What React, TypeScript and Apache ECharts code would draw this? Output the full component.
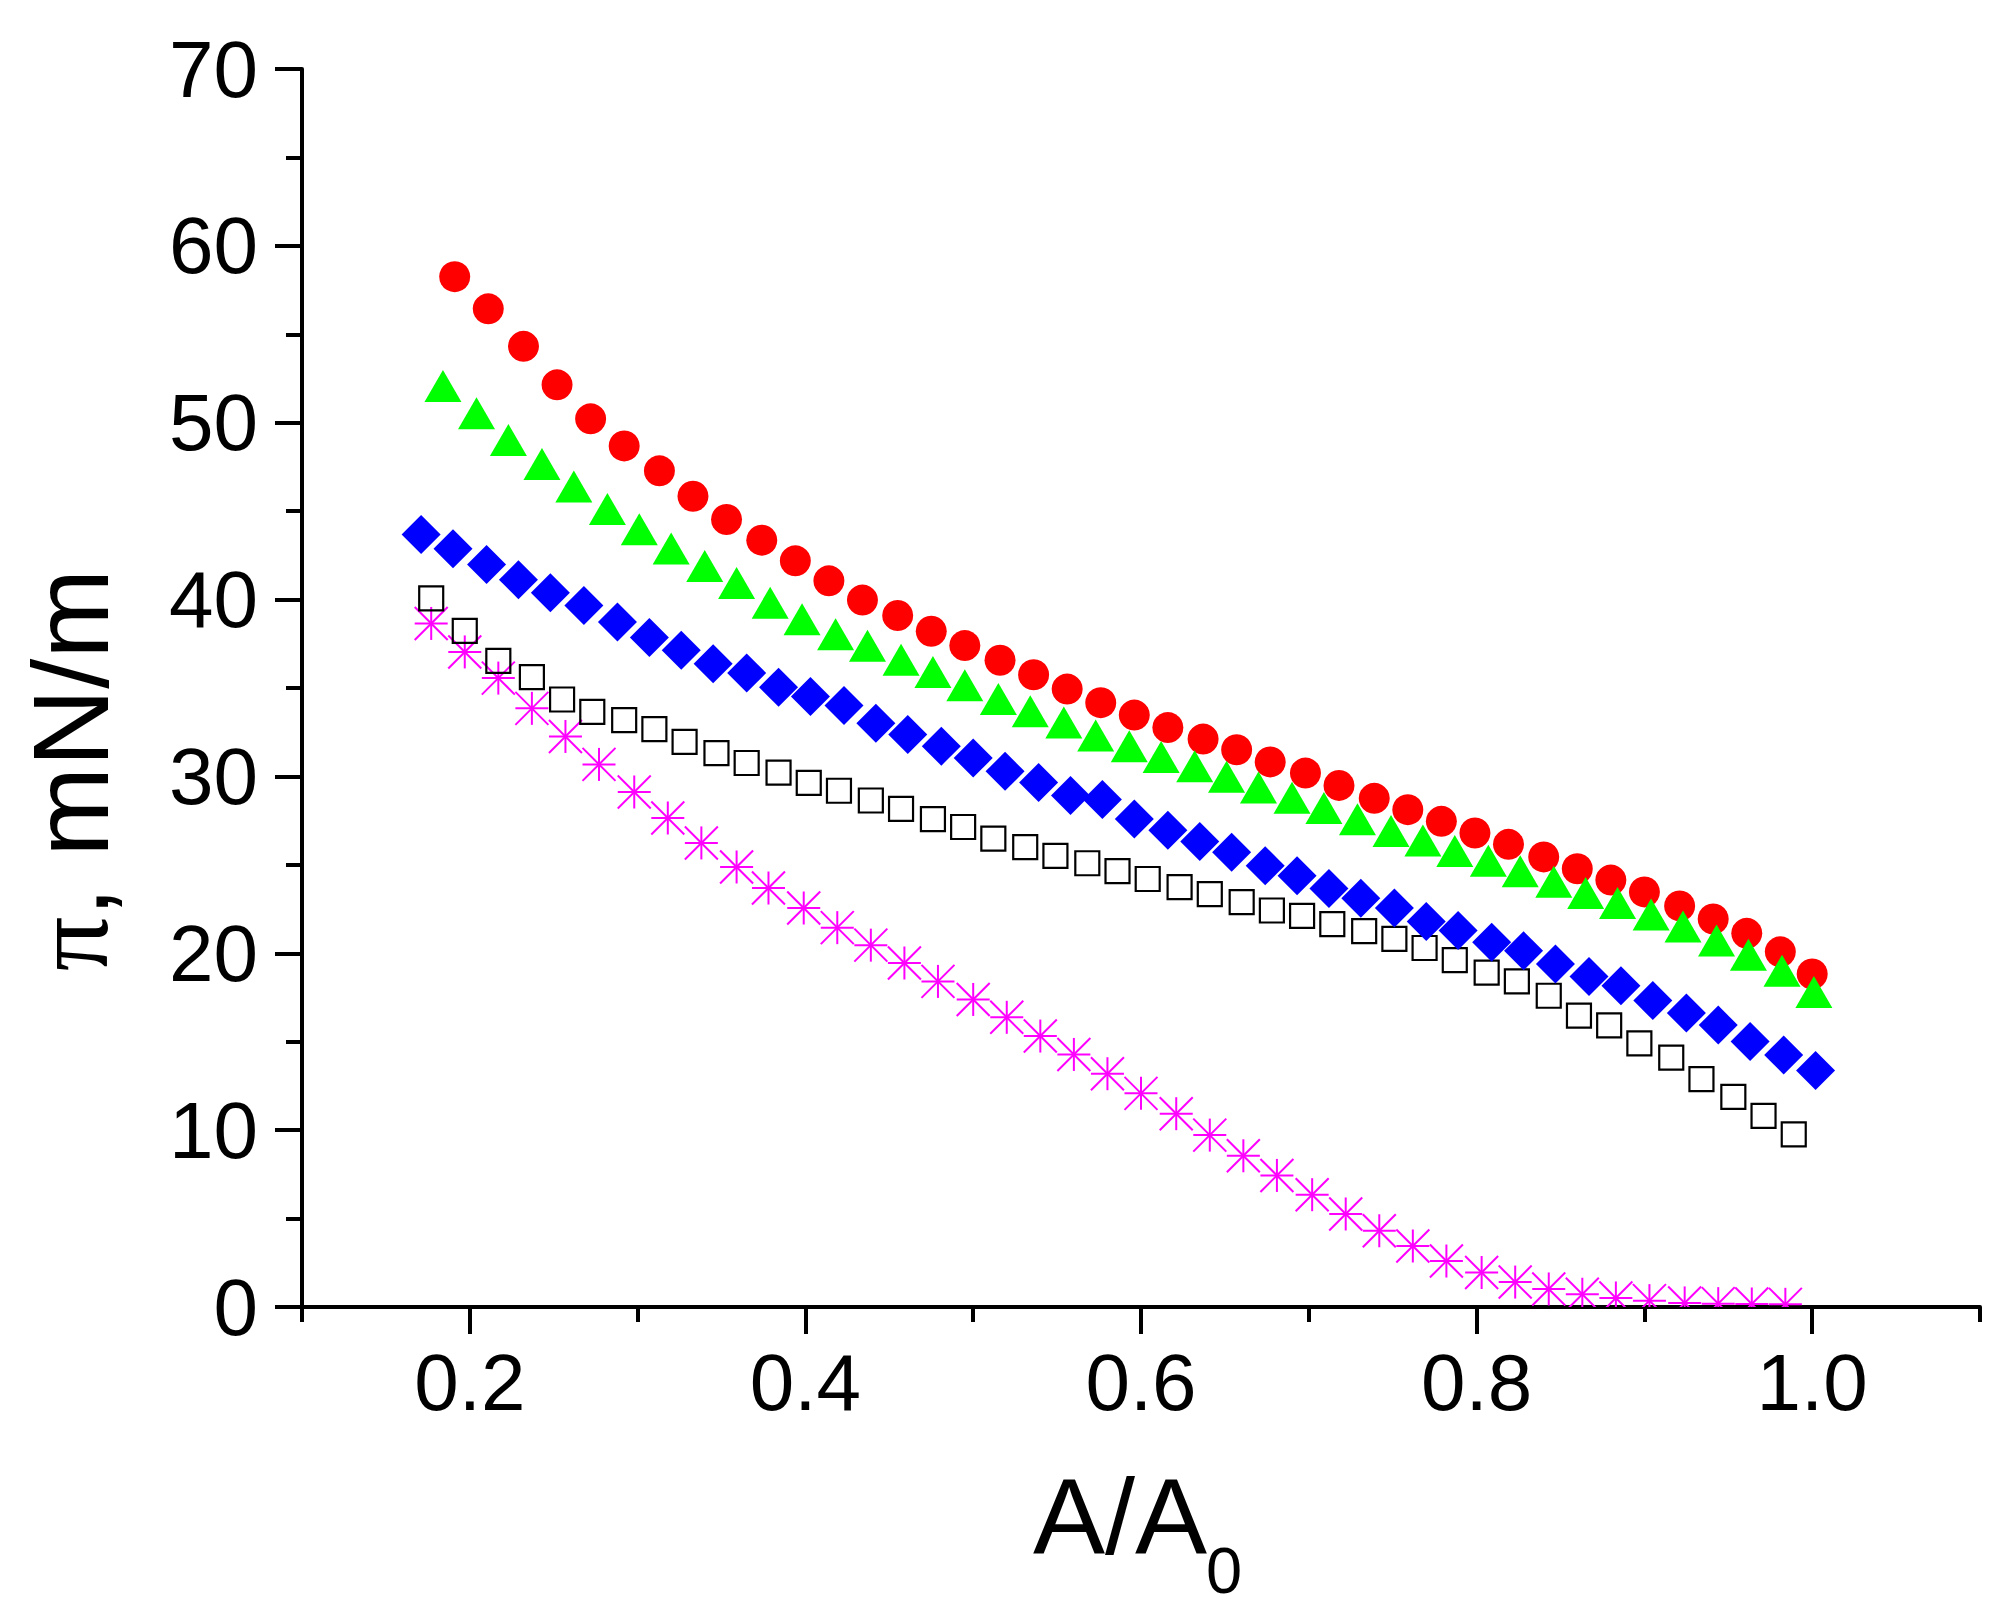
import React, { useEffect, useRef } from "react";
import * as echarts from "echarts";

// ---- data ----
const redX = [0.191, 0.211, 0.232, 0.252, 0.272, 0.292, 0.313, 0.333, 0.353, 0.374, 0.394, 0.414, 0.434, 0.455,
  0.475, 0.495, 0.516, 0.536, 0.556, 0.576, 0.596, 0.616, 0.637, 0.657, 0.677, 0.698, 0.718, 0.739, 0.759,
  0.779, 0.799, 0.819, 0.840, 0.860, 0.880, 0.900, 0.921, 0.941, 0.961, 0.981, 1.000];
const redY = [58.26, 56.44, 54.32, 52.14, 50.22, 48.69, 47.28, 45.84, 44.53, 43.36, 42.19, 41.06, 39.97, 39.10,
  38.21, 37.40, 36.57, 35.75, 34.94, 34.17, 33.47, 32.76, 32.11, 31.51, 30.82, 30.19, 29.49, 28.76, 28.12,
  27.46, 26.80, 26.16, 25.45, 24.78, 24.14, 23.47, 22.68, 21.94, 21.13, 20.08, 18.83];

const greenX = [0.184, 0.204, 0.223, 0.243, 0.262, 0.282, 0.301, 0.320, 0.340, 0.359, 0.379, 0.398, 0.418, 0.437, 0.457,
  0.476, 0.495, 0.515, 0.534, 0.554, 0.573, 0.593, 0.612, 0.632, 0.651, 0.670, 0.690, 0.709, 0.729, 0.749,
  0.768, 0.787, 0.807, 0.826, 0.846, 0.865, 0.884, 0.904, 0.923, 0.943, 0.962, 0.982, 1.001];
const greenY = [52.07, 50.53, 49.02, 47.67, 46.40, 45.12, 43.98, 42.89, 41.90, 40.93, 39.82, 38.89, 38.04, 37.39, 36.60,
  35.91, 35.15, 34.38, 33.68, 33.05, 32.31, 31.71, 31.10, 30.57, 29.98, 29.38, 28.79, 28.21, 27.58, 26.91,
  26.38, 25.78, 25.23, 24.64, 24.05, 23.41, 22.84, 22.20, 21.51, 20.73, 19.92, 19.01, 17.81];

const blueX = [0.171, 0.190, 0.210, 0.229, 0.248, 0.268, 0.288, 0.307, 0.326, 0.345, 0.365, 0.384, 0.403, 0.423, 0.442, 0.461,
  0.481, 0.500, 0.519, 0.539, 0.558, 0.577, 0.596, 0.616, 0.635, 0.654, 0.674, 0.693, 0.712, 0.731, 0.751,
  0.770, 0.789, 0.809, 0.828, 0.847, 0.867, 0.886, 0.905, 0.925, 0.944, 0.963, 0.983, 1.002];
const blueY = [43.68, 42.87, 41.98, 41.12, 40.39, 39.66, 38.73, 37.85, 37.14, 36.37, 35.85, 35.04, 34.52, 34.01, 33.00, 32.37,
  31.71, 31.04, 30.29, 29.65, 28.92, 28.70, 27.59, 26.96, 26.32, 25.71, 24.95, 24.38, 23.67, 23.11, 22.56,
  21.80, 21.29, 20.63, 20.14, 19.40, 18.69, 18.16, 17.33, 16.62, 15.94, 15.01, 14.25, 13.37];

const blackX = [0.177, 0.197, 0.217, 0.237, 0.255, 0.273, 0.292, 0.310, 0.328, 0.347, 0.365, 0.384, 0.402, 0.420, 0.439, 0.457,
  0.476, 0.494, 0.512, 0.531, 0.549, 0.568, 0.586, 0.604, 0.623, 0.641, 0.660, 0.678, 0.696, 0.714, 0.733, 0.751,
  0.769, 0.787, 0.806, 0.824, 0.843, 0.861, 0.879, 0.897, 0.916, 0.934, 0.953, 0.971, 0.989];
const blackY = [40.07, 38.23, 36.53, 35.61, 34.35, 33.65, 33.18, 32.68, 31.95, 31.32, 30.76, 30.21, 29.63, 29.19, 28.64, 28.16,
  27.59, 27.14, 26.48, 26.00, 25.51, 25.09, 24.64, 24.20, 23.74, 23.35, 22.89, 22.42, 22.12, 21.65, 21.25, 20.81,
  20.30, 19.61, 18.91, 18.41, 17.60, 16.47, 15.92, 14.91, 14.10, 12.89, 11.88, 10.81, 9.76];

const magentaX = [0.177, 0.197, 0.217, 0.237, 0.257, 0.277, 0.298,
  0.318, 0.338, 0.359, 0.378, 0.399, 0.419, 0.439, 0.459,
  0.479, 0.500, 0.520, 0.540, 0.560, 0.580, 0.600, 0.621, 0.641, 0.661, 0.681, 0.702, 0.722, 0.742, 0.762,
  0.782, 0.803, 0.823, 0.843, 0.863, 0.883, 0.903, 0.924, 0.944, 0.964, 0.984];
const magentaY = [38.65, 37.04, 35.56, 33.85, 32.26, 30.68, 29.12,
  27.65, 26.24, 24.88, 23.69, 22.56, 21.45, 20.46, 19.45,
  18.41, 17.39, 16.38, 15.32, 14.28, 13.19, 12.08, 10.93, 9.72, 8.55, 7.44, 6.35, 5.26, 4.31, 3.45,
  2.60, 1.95, 1.41, 1.02, 0.72, 0.51, 0.36, 0.23, 0.19, 0.17, 0.15];

const xMajorTicks = [0.2, 0.4, 0.6, 0.8, 1.0];
const xMinorTicks = [0.1, 0.3, 0.5, 0.7, 0.9, 1.1];

const pairs = (xs: number[], ys: number[]) => xs.map((x, i) => [x, ys[i]]);

const FONT = "Liberation Sans, Arial, sans-serif";

export default function App() {
  const ref = useRef<HTMLDivElement>(null);
  useEffect(() => {
    if (!ref.current) return;
    const chart = echarts.init(ref.current, null, { renderer: "svg" });
    const axisLineStyle = { color: "#000", width: 4 };
    const option: any = {
      animation: false,
      backgroundColor: "#fff",
      grid: { left: 302, top: 69, width: 1678, height: 1238, containLabel: false },
      xAxis: [
        {
          type: "value",
          min: 0.1,
          max: 1.1,
          interval: 0.1,
          axisLine: { show: true, onZero: false, lineStyle: axisLineStyle },
          axisTick: { show: true, customValues: xMajorTicks, length: 27, lineStyle: { color: "#000", width: 4 } },
          axisLabel: {
            show: true,
            customValues: xMajorTicks,
            formatter: (v: number) => v.toFixed(1),
            fontSize: 80,
            fontFamily: FONT,
            color: "#000",
            margin: 35,
          },
          splitLine: { show: false },
        },
        {
          type: "value",
          min: 0.1,
          max: 1.1,
          interval: 0.1,
          position: "bottom",
          axisLine: { show: false, onZero: false },
          axisTick: { show: true, customValues: xMinorTicks, length: 15, lineStyle: { color: "#000", width: 4 } },
          axisLabel: { show: false },
          splitLine: { show: false },
        },
      ],
      yAxis: {
        type: "value",
        min: 0,
        max: 70,
        interval: 10,
        axisLine: { show: true, onZero: false, lineStyle: axisLineStyle },
        axisTick: { show: true, length: 27, lineStyle: { color: "#000", width: 4 } },
        minorTick: { show: true, splitNumber: 2, length: 16, lineStyle: { color: "#000", width: 4 } },
        axisLabel: { fontSize: 80, fontFamily: FONT, color: "#000", margin: 44 },
        splitLine: { show: false },
        minorSplitLine: { show: false },
      },
      series: [
        {
          type: "scatter",
          data: pairs(blackX, blackY),
          symbol: "rect",
          symbolSize: 24,
          itemStyle: { color: "rgba(255,255,255,0)", borderColor: "#000", borderWidth: 2.2, opacity: 1 },
        },
        {
          type: "scatter",
          data: pairs(blueX, blueY),
          symbol: "diamond",
          symbolSize: [39, 39],
          itemStyle: { color: "#0000FF", opacity: 1 },
        },
        {
          type: "scatter",
          data: pairs(redX, redY),
          symbol: "circle",
          symbolSize: 31,
          itemStyle: { color: "#FF0000", opacity: 1 },
        },
        {
          type: "scatter",
          data: pairs(greenX, greenY),
          symbol: "triangle",
          symbolSize: [37, 32],
          itemStyle: { color: "#00FF00", opacity: 1 },
        },
        {
          type: "custom",
          clip: true,
          data: pairs(magentaX, magentaY),
          renderItem: (params: any, api: any) => {
            const p = api.coord([api.value(0), api.value(1)]);
            const h = 16.5;
            const st = { stroke: "#FF00FF", lineWidth: 2 };
            return {
              type: "group",
              children: [
                { type: "line", shape: { x1: p[0] - h, y1: p[1], x2: p[0] + h, y2: p[1] }, style: st },
                { type: "line", shape: { x1: p[0], y1: p[1] - h, x2: p[0], y2: p[1] + h }, style: st },
                { type: "line", shape: { x1: p[0] - h, y1: p[1] - h, x2: p[0] + h, y2: p[1] + h }, style: st },
                { type: "line", shape: { x1: p[0] - h, y1: p[1] + h, x2: p[0] + h, y2: p[1] - h }, style: st },
              ],
            };
          },
        },
      ],
      graphic: [
        {
          type: "text",
          x: 70,
          y: 770,
          rotation: Math.PI / 2,
          style: {
            text: "{p|π}, mN/m",
            fontSize: 108,
            fontFamily: FONT,
            fill: "#000",
            align: "center",
            verticalAlign: "middle",
            rich: {
              p: { fontSize: 108, fontFamily: "Liberation Serif, DejaVu Serif, serif", fill: "#000" },
            },
          },
        },
        {
          type: "text",
          x: 1033,
          y: 1516,
          style: { text: "A/A", fontSize: 108, fontFamily: FONT, fill: "#000", align: "left", verticalAlign: "middle" },
        },
        {
          type: "text",
          x: 1206,
          y: 1570,
          style: { text: "0", fontSize: 65, fontFamily: FONT, fill: "#000", align: "left", verticalAlign: "middle" },
        },
      ],
    };
    chart.setOption(option);
    return () => chart.dispose();
  }, []);
  return (
    <div
      ref={ref}
      style={{ position: "fixed", left: 0, top: 0, width: 2004, height: 1620, background: "#fff" }}
    />
  );
}
